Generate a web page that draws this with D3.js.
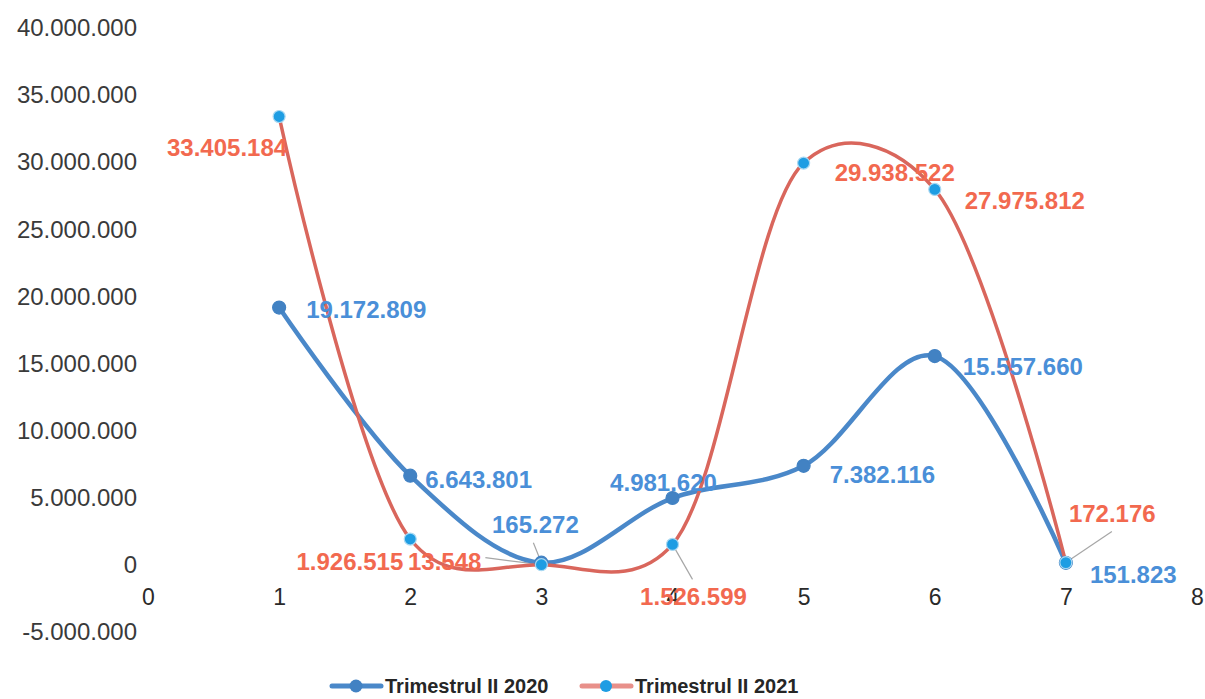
<!DOCTYPE html>
<html><head><meta charset="utf-8">
<script src="https://cdn.jsdelivr.net/npm/d3@7"></script>
<style>body{margin:0;background:#fff;} text{font-family:"Liberation Sans",Arial,sans-serif;}</style>
</head><body>
<svg id="c" width="1205" height="699"></svg>
<script>
// ---- data ----
const categories = [1, 2, 3, 4, 5, 6, 7];
const series2020 = [19172809, 6643801, 165272, 4981620, 7382116, 15557660, 151823];
const series2021 = [33405184, 1926515, 13548, 1526599, 29938522, 27975812, 172176];
const seriesNames = ["Trimestrul II 2020", "Trimestrul II 2021"];
const xTicks = [0, 1, 2, 3, 4, 5, 6, 7, 8];
const yTicks = [-5000000, 0, 5000000, 10000000, 15000000, 20000000, 25000000, 30000000, 35000000, 40000000];

// ---- label layout (offsets relative to point), kept separate from data ----
const lab2020 = [
  {dx: 27, dy: 2, anchor: "start"},
  {dx: 15, dy: 4, anchor: "start"},
  {dx: -6, dy: -38, anchor: "middle", leader: [-8, -20]},
  {dx: -9, dy: -15, anchor: "middle"},
  {dx: 26, dy: 9, anchor: "start"},
  {dx: 28, dy: 11, anchor: "start"},
  {dx: 24, dy: 12, anchor: "start"}
];
const lab2021 = [
  {dx: -7, dy: 23, anchor: "end"},
  {dx: -7, dy: 23, anchor: "end"},
  {dx: -60, dy: -3, anchor: "end", leader: [-56, -7]},
  {dx: 21, dy: 52, anchor: "middle", leader: [20, 35]},
  {dx: 31, dy: 10, anchor: "start"},
  {dx: 30, dy: 11, anchor: "start"},
  {dx: 3, dy: -49, anchor: "start", leader: [46, -31]}
];
lab2021[0] = {dx: 8, dy: 31, anchor: "end"};

const loc = d3.formatLocale({decimal: ",", thousands: ".", grouping: [3], currency: ["", ""], minus: "-"});
const fmt = loc.format(",.0f");

const svg = d3.select("#c");
const x = d3.scaleLinear().domain([0, 8]).range([148, 1197]);
const y = d3.scaleLinear().domain([-5000000, 40000000]).range([632, 28]);

// y axis labels
const yAxis = d3.axisLeft(y).tickValues(yTicks).tickFormat(fmt).tickSize(0).tickPadding(0);
const gy = svg.append("g").attr("transform", "translate(137,0)").call(yAxis);
gy.select(".domain").remove();
gy.selectAll("text").attr("font-size", 24).attr("fill", "#3a3a3a")
  .attr("font-family", '"Liberation Sans",Arial,sans-serif');

// x axis labels
const xAxis = d3.axisBottom(x).tickValues(xTicks).tickFormat(d3.format("d")).tickSize(0).tickPadding(0);
const gx = svg.append("g").attr("transform", "translate(0,589)").call(xAxis);
gx.select(".domain").remove();
gx.selectAll("text").attr("font-size", 23).attr("fill", "#2a2a2a")
  .attr("font-family", '"Liberation Sans",Arial,sans-serif');

const line = d3.line().x((d, i) => x(categories[i])).y(d => y(d)).curve(d3.curveCatmullRom.alpha(0.25));

const S = [
  {vals: series2020, lab: lab2020, line: "#4a88c9", lw: 4.5, mk: "#4282c3", mr: 6.5, mstroke: "#4282c3", text: "#4a8fd8", legLine: "#4a88c9"},
  {vals: series2021, lab: lab2021, line: "#d9665c", lw: 3.5, mk: "#1e9de3", mr: 6, mstroke: "#a8d8f2", text: "#f2694f", legLine: "#e8908a"}
];

// leader lines
S.forEach(s => {
  s.vals.forEach((v, i) => {
    const L = s.lab[i];
    if (!L.leader) return;
    svg.append("line")
      .attr("x1", x(categories[i])).attr("y1", y(v))
      .attr("x2", x(categories[i]) + L.leader[0]).attr("y2", y(v) + L.leader[1])
      .attr("stroke", "#a6a6a6").attr("stroke-width", 1.2);
  });
});

// lines
S.forEach(s => {
  svg.append("path").datum(s.vals).attr("d", line)
    .attr("fill", "none").attr("stroke", s.line).attr("stroke-width", s.lw)
    .attr("stroke-linecap", "round").attr("stroke-linejoin", "round");
});
// markers
S.forEach(s => {
  svg.append("g").selectAll("circle").data(s.vals).join("circle")
    .attr("cx", (d, i) => x(categories[i])).attr("cy", d => y(d))
    .attr("r", s.mr).attr("fill", s.mk).attr("stroke", s.mstroke).attr("stroke-width", 1.2);
});
// data labels
S.forEach(s => {
  svg.append("g").selectAll("text").data(s.vals).join("text")
    .attr("x", (d, i) => x(categories[i]) + s.lab[i].dx)
    .attr("y", (d, i) => y(d) + s.lab[i].dy)
    .attr("dy", "0.35em")
    .attr("text-anchor", (d, i) => s.lab[i].anchor)
    .attr("font-size", 24).attr("font-weight", "bold").attr("fill", s.text)
    .text(d => fmt(d));
});

// legend
const leg = [{x0: 332, s: S[0], name: seriesNames[0]}, {x0: 582, s: S[1], name: seriesNames[1]}];
leg.forEach(l => {
  const g = svg.append("g").attr("transform", `translate(${l.x0},686)`);
  g.append("line").attr("x1", 0).attr("x2", 49).attr("y1", 0).attr("y2", 0)
    .attr("stroke", l.s.legLine).attr("stroke-width", 5).attr("stroke-linecap", "round");
  g.append("circle").attr("cx", 24).attr("cy", 0).attr("r", l.s.mr).attr("fill", l.s.mk);
  g.append("text").attr("x", 53).attr("y", 0).attr("dy", "0.35em")
    .attr("font-size", 20).attr("font-weight", "bold").attr("fill", "#262626").text(l.name);
});
</script>
</body></html>
